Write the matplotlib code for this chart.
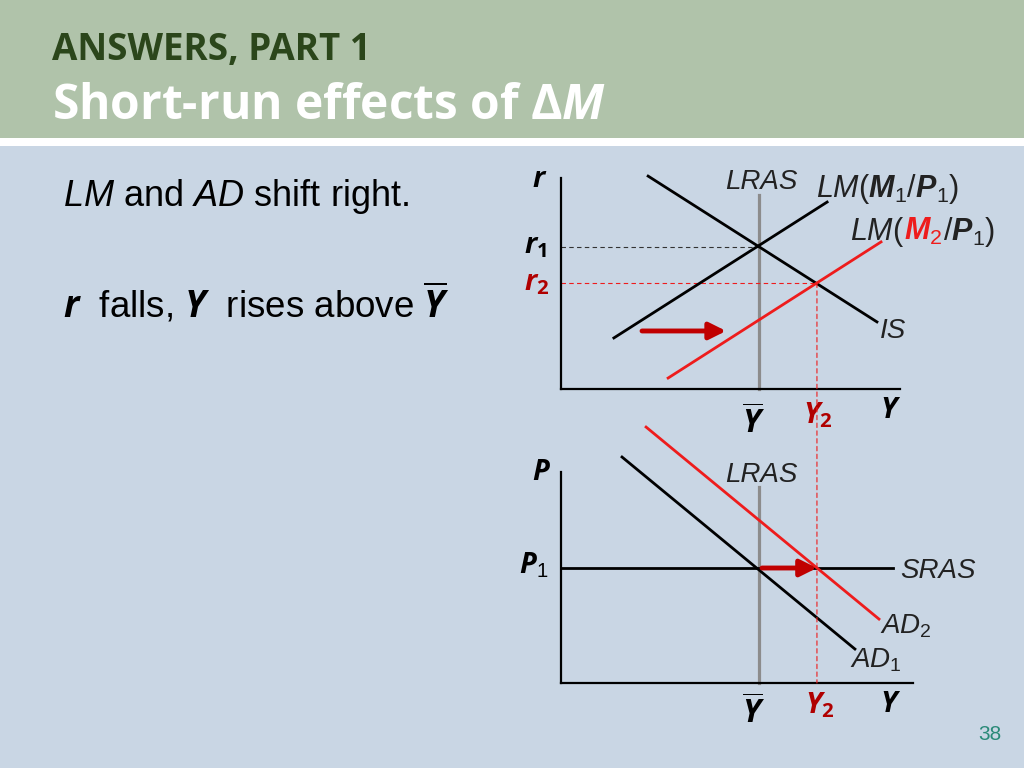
import matplotlib
matplotlib.use("Agg")
import matplotlib.pyplot as plt
from matplotlib.patches import Rectangle, ConnectionPatch

# mathtext fonts so that subscripts / bold italic letters look like the slide
plt.rcParams['mathtext.fontset'] = 'custom'
plt.rcParams['mathtext.rm'] = 'Liberation Sans'
plt.rcParams['mathtext.it'] = 'Liberation Sans:italic'
plt.rcParams['mathtext.bf'] = 'Open Sans:bold'
plt.rcParams['mathtext.bfit'] = 'Open Sans:italic:bold'
plt.rcParams['mathtext.sf'] = 'Liberation Sans:italic:bold'  # used for M, P in LM labels
plt.rcParams['font.family'] = ['Liberation Sans', 'DejaVu Sans']

# ---- data (diagram units) ----
# IS-LM panel: Y on x axis, r on y axis
Y_BAR = 5.84
Y_2 = 7.55
r_1 = 6.73
r_2 = 5.02
LM1_Y = [1.56, 7.85]
LM1_r = [2.42, 8.86]
LM2_Y = [3.16, 9.44]
LM2_r = [0.52, 6.97]
IS_Y = [2.57, 9.32]
IS_r = [10.09, 3.18]
LRAS_TOP_r = 9.19
SHIFT_LM_Y = [2.39, 4.87]
SHIFT_LM_r = 2.75

# AD-AS panel: Y on x axis, P on y axis
P_1 = 5.45
SRAS_Y = [0.0, 9.79]
AD1_Y = [1.80, 8.67]
AD1_P = [10.71, 1.61]
AD2_Y = [2.51, 9.38]
AD2_P = [12.13, 3.03]
LRAS_TOP_P = 9.29
SHIFT_AD_Y = [5.93, 7.55]

# colours
green = '#b0c3aa'
body = '#c9d6e4'
dkgreen = '#2b461b'
red = '#ee1c1c'
dkred = '#b00000'
arrowred = '#c00000'
grey = '#8c8c8c'

fig = plt.figure(figsize=(10.24, 7.68), dpi=100)
fig.patch.set_facecolor(body)

# background axes in pixel units for the slide decoration
bg = fig.add_axes([0, 0, 1, 1])
bg.set_xlim(0, 1024)
bg.set_ylim(768, 0)
bg.axis('off')
bg.add_patch(Rectangle((0, 0), 1024, 138, color=green, lw=0))
bg.add_patch(Rectangle((0, 138), 1024, 8, color='white', lw=0))

bg.text(52, 60, 'ANSWERS, PART 1', family='Open Sans', weight='bold',
        fontsize=26.5, color=dkgreen, va='baseline')
bg.text(52, 119, 'Short-run effects of Δ$\\mathbfit{M}$', family='Open Sans',
        weight='bold', fontsize=34.5, color='white', va='baseline')

bg.text(63, 206, r'$\mathit{LM}$ and $\mathit{AD}$ shift right.', fontsize=26,
        color='black', va='baseline')
bg.text(63, 317, r'$\mathbfit{r}$  falls, $\mathbfit{Y}$  rises above $\overline{\mathbfit{Y}}$',
        fontsize=26.5, color='black', va='baseline')
bg.text(978, 740, '38', fontsize=15, color='#2a8a78', va='baseline')


def panel(left, top, right, bottom, xmax):
    ax = fig.add_axes([left / 1024, 1 - bottom / 768,
                       (right - left) / 1024, (bottom - top) / 768])
    ax.set_xlim(0, xmax)
    ax.set_ylim(0, 10)
    ax.patch.set_alpha(0)
    for s in ['top', 'right']:
        ax.spines[s].set_visible(False)
    for s in ['left', 'bottom']:
        ax.spines[s].set_linewidth(1.6)
    ax.set_xticks([])
    ax.set_yticks([])
    return ax


top = panel(561, 178, 900, 389, 10)
bot = panel(561, 472, 913, 683, (913 - 561) / 33.9)

# ---- IS-LM ----
top.plot([Y_BAR, Y_BAR], [0, LRAS_TOP_r], color=grey, lw=2.3, clip_on=False)
top.plot([0, Y_BAR], [r_1, r_1], color='#333333', lw=0.8, ls=(0, (4, 3)))
top.plot([0, Y_2], [r_2, r_2], color=red, lw=0.8, ls=(0, (4, 3)))
top.plot(LM1_Y, LM1_r, color='black', lw=2, clip_on=False)
top.plot(IS_Y, IS_r, color='black', lw=2, clip_on=False)
top.plot(LM2_Y, LM2_r, color=red, lw=2, clip_on=False)
top.annotate('', xy=(SHIFT_LM_Y[1], SHIFT_LM_r), xytext=(SHIFT_LM_Y[0], SHIFT_LM_r),
             arrowprops=dict(arrowstyle='-|>,head_length=1.0,head_width=0.5',
                             lw=3.5, color=arrowred, shrinkA=0, shrinkB=0))

# ---- AD-AS ----
bot.plot([Y_BAR, Y_BAR], [0, LRAS_TOP_P], color=grey, lw=2.3, clip_on=False)
bot.plot(SRAS_Y, [P_1, P_1], color='black', lw=2, clip_on=False)
bot.plot(AD1_Y, AD1_P, color='black', lw=2, clip_on=False)
bot.plot(AD2_Y, AD2_P, color=red, lw=2, clip_on=False)
bot.annotate('', xy=(SHIFT_AD_Y[1], P_1), xytext=(SHIFT_AD_Y[0], P_1),
             arrowprops=dict(arrowstyle='-|>,head_length=1.0,head_width=0.5',
                             lw=3.5, color=arrowred, shrinkA=0, shrinkB=0))

# Y2 dashed line from the IS-LM equilibrium down to the AD-AS axis
con = ConnectionPatch(xyA=(Y_2, r_2), coordsA=top.transData,
                      xyB=(Y_2, 0), coordsB=bot.transData,
                      color=red, lw=0.8, ls=(0, (4, 3)))
fig.add_artist(con)

# ---- labels ----
lab = dict(fontsize=21, va='baseline')
bg.text(532, 187, r'$\mathbfit{r}$', **lab)
bg.text(524, 253, r'$\mathbfit{r}_\mathbf{1}$', **lab)
bg.text(524, 290, r'$\mathbfit{r}_\mathbf{2}$', color=dkred, **lab)
bg.text(880, 418, r'$\mathbfit{Y}$', **lab)
bg.text(742, 434, r'$\overline{\mathbfit{Y}}$', fontsize=23, va='baseline')
bg.text(803, 423, r'$\mathbfit{Y}_\mathbf{2}$', color=dkred, **lab)

bg.text(532, 480, r'$\mathbfit{P}$', **lab)
bg.text(519, 573, r'$\mathbfit{P}_1$', **lab)
bg.text(880, 712, r'$\mathbfit{Y}$', **lab)
bg.text(742, 724, r'$\overline{\mathbfit{Y}}$', fontsize=23, va='baseline')
bg.text(805, 713, r'$\mathbfit{Y}_\mathbf{2}$', color=dkred, **lab)

it = dict(fontsize=20, va='baseline', color='#222222')
bg.text(725, 189, 'LRAS', style='italic', **it)
bg.text(725, 482, 'LRAS', style='italic', **it)
bg.text(900, 578, 'SRAS', style='italic', **it)
bg.text(880, 338, 'IS', style='italic', **it)
bg.text(880, 633, r'$\mathit{AD}_2$', **it)
bg.text(850, 668, r'$\mathit{AD}_1$', **it)

# LM labels put together from pieces (the M2 one has a red part)
renderer = fig.canvas.get_renderer()


def pieces(x, y, parts, size=22):
    for s, c in parts:
        t = bg.text(x, y, s, fontsize=size, va='baseline', color=c)
        bb = t.get_window_extent(renderer=renderer)
        x = bg.transData.inverted().transform((bb.x1, bb.y0))[0]


pieces(816, 197, [(r'$\mathit{LM}$($\mathsf{M}_1$/$\mathsf{P}_1$)', '#222222')])
pieces(850, 240, [(r'$\mathit{LM}$(', '#222222'), (r'$\mathsf{M}_2$', red),
                  (r'/$\mathsf{P}_1$)', '#222222')])

fig.savefig('out.png', dpi=100, facecolor=fig.get_facecolor())
